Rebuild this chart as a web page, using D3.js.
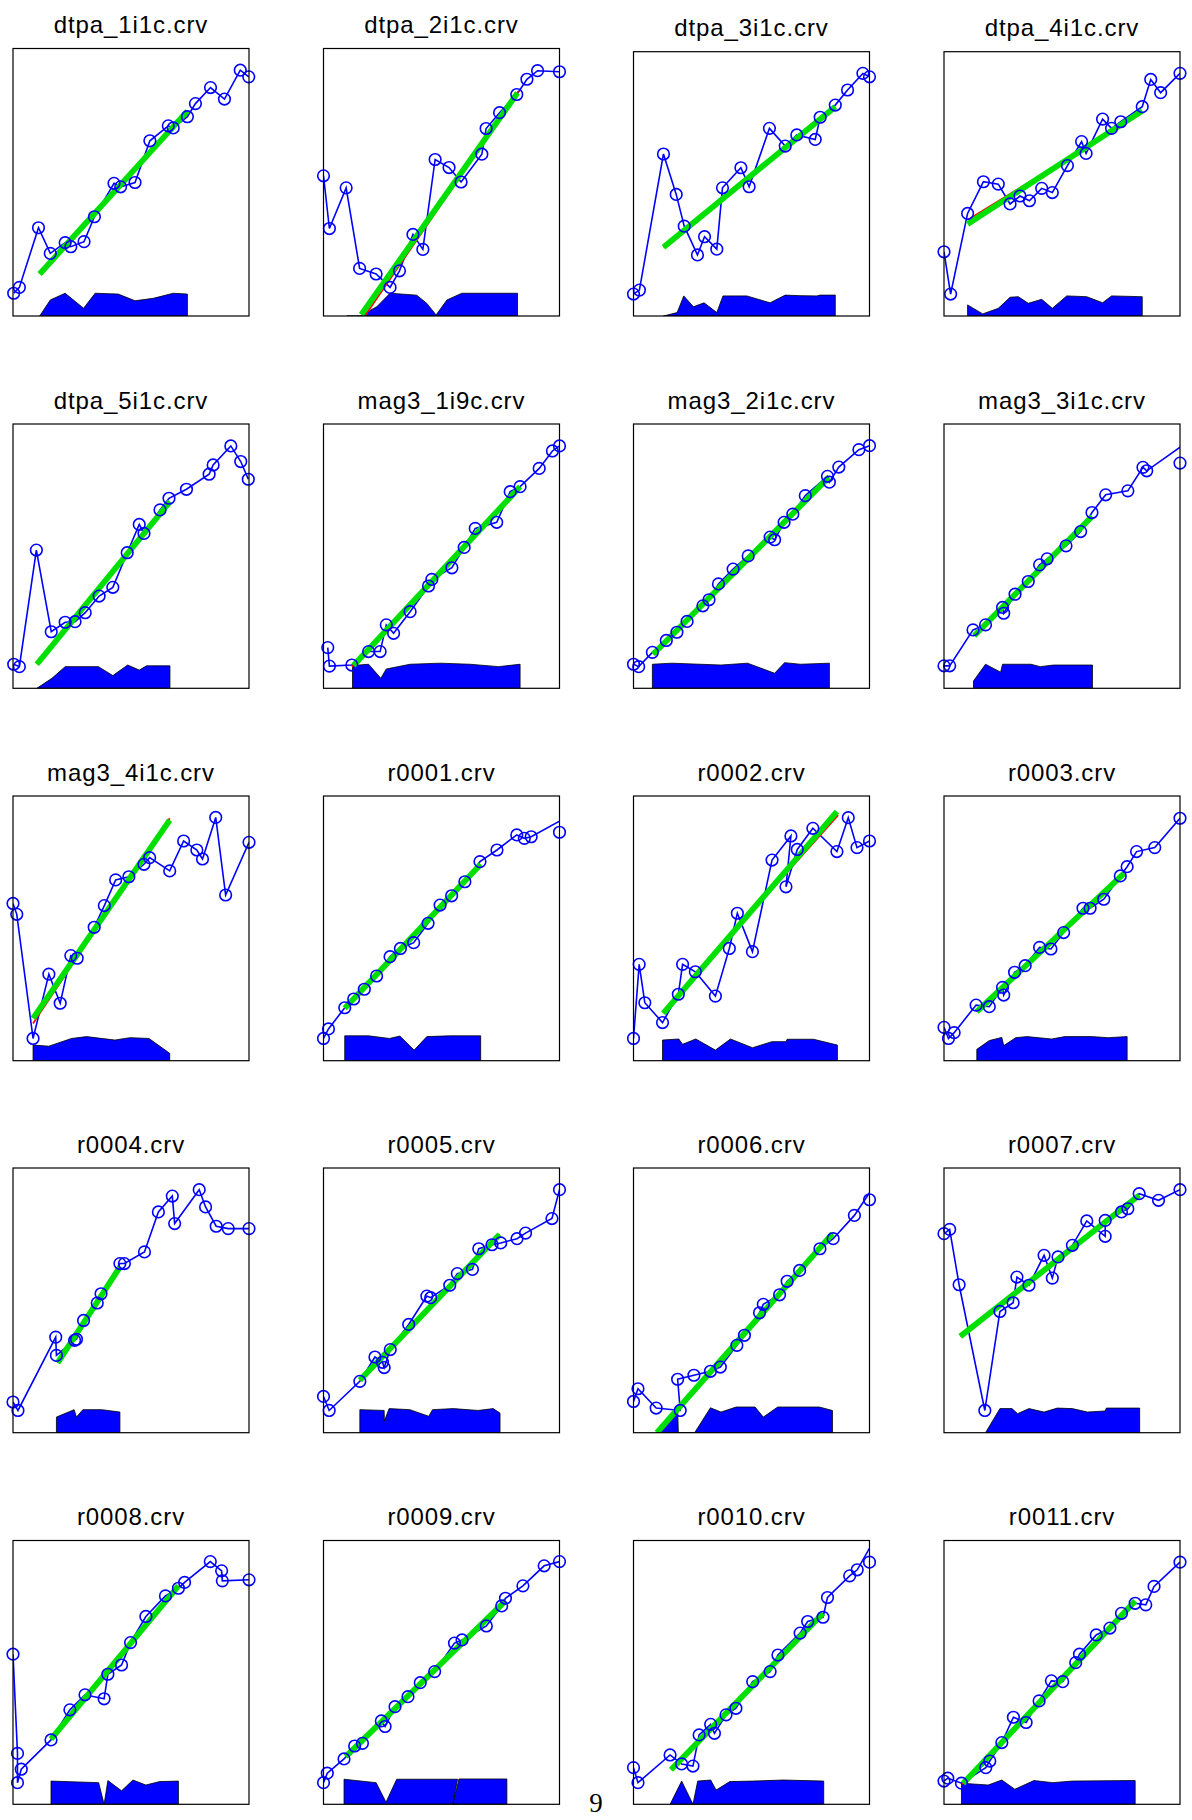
<!DOCTYPE html>
<html>
<head>
<meta charset="utf-8">
<script src="https://cdn.jsdelivr.net/npm/d3@7"></script>
<style>
  body { margin: 0; background: #fff; }
  svg { display: block; }
</style>
</head>
<body>
<div id="chart"></div>
<script>
// panel titles (4 per row)
const titles = ["dtpa_1i1c.crv", "dtpa_2i1c.crv", "dtpa_3i1c.crv", "dtpa_4i1c.crv",
  "dtpa_5i1c.crv", "mag3_1i9c.crv", "mag3_2i1c.crv", "mag3_3i1c.crv",
  "mag3_4i1c.crv", "r0001.crv", "r0002.crv", "r0003.crv",
  "r0004.crv", "r0005.crv", "r0006.crv", "r0007.crv",
  "r0008.crv", "r0009.crv", "r0010.crv", "r0011.crv"];

// measured curve, x in % of the axis range, y in % of the axis range
const curveX = [
  [0.3,2.7,10.8,15.8,22.1,24.5,30.1,34.5,42.8,45.6,51.7,58.0,65.8,67.9,73.9,77.3,83.7,89.6,96.3,99.9],
  [0,2.5,9.6,15.3,22.3,28.2,32.2,37.9,42.1,47.3,53.2,58.3,67.1,68.9,74.6,81.9,86.2,90.7,100],
  [0,2.5,12.7,18.1,21.5,27.1,30.1,35.3,37.7,45.5,49.0,57.6,64.3,69.2,77.0,79.1,85.5,90.7,97.2,100],
  [0,2.8,10.0,16.7,23.0,28.0,32.2,36.2,41.4,45.9,52.3,58.3,60.2,67.2,71.0,74.9,84.0,87.6,91.8,100],
  [0.3,2.7,9.9,16.2,22.1,26.3,30.6,36.5,42.3,48.4,53.5,55.5,62.3,66.1,73.5,83.1,84.8,92.3,96.5,99.7],
  [1.8,2.5,12.0,19.1,24.0,26.6,29.7,36.7,44.5,45.9,54.4,59.6,64.3,73.4,79.1,83.3,91.4,97.0,100],
  [0,2.2,8.0,13.9,18.4,22.7,29.4,32.0,36.0,42.2,48.6,57.9,59.8,63.8,67.5,72.8,82.2,83.0,87.0,95.5,100],
  [0,2.4,12.3,17.6,24.8,25.3,30.1,35.7,40.5,43.7,51.7,57.9,62.7,68.5,77.9,84.3,85.9,104,100],
  [0,1.6,8.5,15.2,20.0,24.5,27.2,34.4,38.7,43.5,49.1,55.5,57.9,66.4,72.3,77.9,80.3,85.9,90.1,100],
  [0,2.1,9.0,12.8,17.3,22.5,28.2,32.6,38.2,44.3,49.4,54.3,59.9,66.3,73.5,81.9,85.1,88.0,104,100],
  [0,2.4,4.8,12.3,19.0,20.8,26.2,34.7,40.6,44.0,50.4,58.7,66.7,64.6,69.4,76.0,86.2,91.0,94.7,100],
  [0,1.9,4.3,13.6,19.2,24.8,25.3,29.9,34.4,40.5,45.3,50.7,58.9,61.9,67.7,74.7,77.6,81.6,89.3,100],
  [0,2.1,18.1,18.4,26.1,26.9,29.9,35.7,37.3,45.3,47.2,55.7,61.6,67.5,68.5,78.9,81.6,86.1,91.2,100],
  [0,2.4,15.4,21.8,25.0,25.7,28.3,36.1,43.8,45.4,53.5,56.7,63.1,65.8,71.4,75.1,82.0,85.6,96.8,100],
  [0,1.9,9.6,19.8,18.7,25.6,32.6,36.8,43.8,47.0,53.4,55.0,61.9,65.1,70.4,79.0,84.6,93.6,104,100],
  [0,2.4,6.4,17.3,23.7,29.3,30.9,36.0,42.4,45.9,48.3,54.4,60.5,68.3,68.3,75.2,77.9,82.7,90.9,100],
  [0,1.9,1.9,3.5,16.1,24.1,30.5,38.6,40.2,46.0,49.8,56.3,64.6,70.1,72.7,83.6,88.4,88.7,100],
  [0,1.6,8.7,13.2,16.5,24.5,26.1,30.3,35.8,41.0,47.1,55.5,58.7,69.0,75.5,77.1,84.5,93.5,100],
  [0,1.9,15.5,20.4,25.2,27.8,32.7,34.3,39.2,43.4,50.5,57.9,61.2,70.6,73.8,80.3,82.2,91.6,94.8,103,100],
  [0,1.6,7.4,17.7,19.4,24.5,29.4,34.8,40.3,45.5,50.3,55.8,57.4,64.5,70.3,75.2,81.0,85.5,89.0,100]
];
const curveY = [
  [8.5,10.7,33.0,23.4,27.4,25.9,27.8,37.1,49.6,48.3,49.9,65.5,71.1,70.3,74.5,79.4,85.4,81.1,91.9,89.4],
  [52.4,32.7,47.9,17.8,15.7,10.7,16.9,30.5,24.9,58.5,55.5,50.1,60.5,70.1,76.0,82.8,88.5,91.7,91.3],
  [8.3,9.8,61.3,46.0,34.0,23.1,30.0,25.3,48.5,56.1,48.9,71.0,64.3,68.5,66.8,75.2,79.8,85.5,91.8,90.5],
  [24.3,8.3,38.8,50.8,49.9,42.4,45.4,43.6,48.3,46.7,56.9,66.0,61.5,74.5,71.0,73.5,79.2,89.5,84.5,91.8],
  [9.1,8.2,52.3,21.4,25.0,25.2,28.6,34.9,38.2,51.3,62.0,58.6,67.5,71.9,75.3,81.0,84.5,91.7,85.8,79.1],
  [15.4,8.4,8.8,13.9,13.9,24.0,20.8,29.0,38.7,41.2,45.6,53.3,60.5,62.8,74.4,76.3,83.2,89.8,91.7],
  [9.1,8.2,13.6,18.1,21.2,25.3,31.2,33.5,39.5,45.1,50.1,57.2,56.2,62.8,65.9,72.9,80.2,78.0,83.7,90.3,91.8],
  [8.5,8.5,22.1,24.0,30.6,28.4,35.6,40.4,46.7,49.0,53.9,59.3,66.5,73.2,74.7,83.6,82.3,93.7,85.2],
  [59.4,55.3,8.4,32.7,21.7,39.7,38.7,50.4,58.6,68.3,69.5,74.2,76.7,71.7,83.0,79.6,76.2,91.9,62.6,82.5],
  [8.4,12.0,20.0,23.3,27.0,32.0,39.3,42.4,44.6,51.9,58.8,62.3,67.6,75.2,79.6,85.3,84.0,84.6,92.5,86.3],
  [8.4,36.4,21.9,14.4,25.1,36.4,33.6,24.4,42.4,55.7,41.2,75.8,84.9,65.7,79.8,87.8,79.0,91.8,80.5,83.0],
  [12.6,8.4,10.6,21.0,20.4,27.7,24.8,33.4,35.9,42.8,42.2,48.4,57.6,57.6,61.0,69.8,73.3,79.0,80.5,91.6],
  [11.6,8.4,36.1,29.2,34.9,35.3,42.4,49.0,52.5,63.9,63.9,68.3,83.4,89.4,79.0,91.8,85.3,78.0,77.1,77.1],
  [13.7,8.4,19.4,28.6,26.6,24.6,31.4,40.9,51.6,51.0,55.7,60.1,61.7,69.5,71.0,71.7,73.3,75.4,80.9,91.8],
  [11.8,16.6,9.3,8.4,20.2,21.7,23.2,24.8,33.0,36.8,45.3,48.5,52.1,57.2,61.3,69.5,73.3,82.1,96,88.0],
  [75.2,76.8,55.9,8.4,45.8,49.1,58.8,55.7,67.0,58.4,66.4,70.8,80.0,74.2,80.2,83.4,84.6,90.3,87.8,91.8],
  [56.9,19.3,8.2,13.3,24.4,35.8,41.5,40.0,49.3,52.8,61.3,71.2,79.0,81.9,84.1,92.0,88.5,84.7,85.1],
  [8.2,11.8,17.2,22.1,23.1,31.6,29.5,37.0,40.8,46.1,50.3,61.1,62.3,67.6,75.2,78.1,82.8,90.4,92.0],
  [13.9,8.2,18.7,15.3,14.5,26.3,30.3,26.9,33.9,36.4,46.5,50.3,56.6,64.9,69.3,70.9,78.4,86.6,88.9,101.8,91.8],
  [8.8,9.9,8.0,13.9,16.4,23.4,33.0,31.0,39.2,46.8,46.5,53.7,56.9,64.2,66.8,72.4,76.2,75.6,82.6,91.8]
];

// linear fits: [x0, y0, x1, y1]
const greenFit = [
  [11.3,15.7,73.9,76.6], [16.0,0.5,82.2,83.4], [12.7,26.0,85.5,79.2], [10.0,34.8,84.0,77.6],
  [10.1,9.1,66.5,70.6], [12.7,8.6,83.3,76.3], [8.3,12.9,82.7,79.8], [12.8,19.9,62.7,65.0],
  [8.5,16.0,66.4,90.9], [9.0,19.8,66.6,74.2], [12.6,17.9,86.2,94.1], [13.9,18.5,76.3,70.8],
  [18.9,26.4,45.3,62.6], [15.4,19.8,74.6,74.9], [9.9,0,84.3,75.2], [6.9,36.4,82.7,89.7],
  [16.1,24.7,70.1,82.8], [9.4,18.1,77.1,77.1], [15.9,13.1,80.3,72.4], [8.1,7.9,81.0,77.1]
];
const redFit = [
  [11.3,15.7,73.9,76.6], [17.5,0,82.6,84.0], [12.7,26.0,85.5,79.2], [10.0,36.3,84.0,76.9],
  [10.1,9.1,66.5,70.6], [12.0,8.2,83.6,75.9], [8.3,12.9,82.7,79.8], [12.8,19.9,62.7,65.0],
  [8.5,14.1,66.4,91.6], [9.0,19.8,66.6,74.2], [12.3,18.5,86.7,92.8], [13.9,18.5,76.3,70.8],
  [18.9,26.4,45.3,62.6], [15.4,19.8,74.6,74.9], [9.9,0,84.3,75.2], [6.9,36.4,82.7,89.7],
  [16.1,24.7,70.1,82.8], [9.4,18.1,77.1,77.1], [15.9,13.1,80.3,72.4], [7.6,7.6,80.6,76.9]
];

// filled band along the bottom of each panel
const areaX = [
  [11.3,15.8,22.1,29.9,34.8,44.6,51.7,59.4,67.9,73.9,73.9],
  [9.9,15.5,22.6,28.2,39.5,43.8,47.7,52.3,58.6,82.2,82.2],
  [12.7,18.5,21.3,25.4,29.9,35.3,37.9,48.0,57.9,64.3,70.6,77.7,79.1,85.5,85.5],
  [10.0,10.0,16.4,23.0,28.0,31.5,35.7,41.4,45.9,52.0,60.5,67.2,71.0,84.0,84.0],
  [10.1,16.5,22.1,36.2,42.3,48.6,53.5,56.6,66.5,66.5],
  [12.3,12.3,19.1,24.3,26.6,36.7,49.4,62.1,74.2,83.3,83.3],
  [8.0,8.0,16.3,37.1,48.3,59.8,64.0,70.7,83.0,83.0],
  [12.5,12.5,17.6,24.0,24.8,36.8,40.8,46.4,62.9,62.9],
  [8.5,8.5,15.2,24.8,31.2,43.2,49.6,57.6,66.4,66.4],
  [9.0,9.0,19.1,27.9,32.4,38.4,43.8,53.5,66.6,66.6],
  [12.3,12.3,19.2,20.8,26.4,34.7,41.1,50.4,58.7,64.6,65.1,76.3,86.4,86.4],
  [13.9,13.9,19.2,24.5,25.3,30.4,35.2,45.6,51.2,62.4,69.6,77.6,77.6],
  [18.4,18.4,25.9,26.9,29.6,37.6,45.3,45.3],
  [15.4,15.4,25.7,25.8,27.8,36.6,44.6,46.2,55.0,65.5,71.9,74.8,74.8],
  [9.6,18.7,19.0,25.9,32.6,37.1,43.5,51.5,55.0,61.1,78.7,84.3,84.3],
  [17.6,23.7,28.8,31.2,36.0,42.4,48.0,54.4,60.8,68.3,68.8,82.9,82.9],
  [16.1,16.1,36.3,38.6,40.2,46.0,50.8,56.3,62.1,70.1,70.1],
  [8.7,8.7,22.3,26.5,31.0,56.8,54.8,57.4,77.7,77.7],
  [15.5,20.4,25.2,27.2,32.7,35.0,40.8,50.5,63.4,80.6,80.6],
  [7.4,7.4,18.7,24.5,30.0,38.1,46.1,54.2,81.0,81.0]
];
const areaY = [
  [0,6.0,8.5,2.9,8.5,8.2,5.7,6.6,8.5,8.2,0],
  [0,0,3.5,8.5,7.8,4.7,0.4,6.0,8.5,8.5,0],
  [0,1.3,7.6,3.5,5.0,1.3,7.6,7.6,5.0,7.9,7.7,7.6,7.9,7.9,0],
  [0,4.2,0.8,2.9,7.1,7.3,4.8,6.3,2.9,7.6,7.3,5.0,7.6,7.3,0],
  [0,3.8,8.2,8.2,4.8,8.8,6.9,8.5,8.5,0],
  [0,8.6,9.1,3.8,7.3,9.1,9.5,9.1,8.2,9.1,0],
  [0,9.1,9.5,8.8,9.5,5.7,9.7,9.1,9.5,0],
  [0,2.8,9.1,6.1,9.1,9.1,8.2,8.8,8.8,0],
  [0,5.9,5.5,8.4,9.1,7.8,8.7,8.4,2.8,0],
  [0,9.4,9.4,8.4,9.3,4.0,9.1,9.4,9.4,0],
  [0,7.8,8.2,6.2,8.2,4.0,8.2,4.9,7.2,7.2,8.1,8.1,5.9,0],
  [0,4.3,7.6,8.8,5.7,8.7,9.1,8.2,9.1,9.1,8.7,9.1,0],
  [0,5.9,8.7,5.9,8.7,8.7,7.8,0],
  [0,8.7,8.4,4.4,9.1,8.7,6.2,8.7,9.1,8.4,9.1,7.4,0],
  [0,9.2,0,0,9.4,7.8,9.7,9.7,5.9,9.7,9.7,8.4,0],
  [0,9.1,9.1,7.2,9.1,7.8,9.3,9.1,7.8,8.2,9.3,9.3,0],
  [0,8.8,8.2,0,9.0,5.1,9.2,7.3,8.6,8.8,0],
  [0,9.5,8.2,0.8,9.5,9.5,0,9.6,9.6,0],
  [0,8.8,0,8.8,9.2,5.4,8.6,8.8,9.2,8.8,0],
  [0,8.0,7.3,9.2,5.7,9.0,8.2,8.8,9.0,0]
];

const pageNumber = "9";

// page layout (subplot boxes)
const width = 1192, height = 1820;
const colLeft = [13, 323.5, 633.5, 944];
const boxW = 236;
const rowTop = [48.5, 424, 796, 1168, 1540.5];
const rowBottom = [316, 688.3, 1060.7, 1432.7, 1804.3];

const svg = d3.select("#chart")
  .append("svg")
    .attr("width", width)
    .attr("height", height);

titles.forEach((title, i) => {
  const r = Math.floor(i / 4), c = i % 4;
  const top = (r === 0 && c >= 2) ? 51.7 : rowTop[r];
  const bottom = rowBottom[r];
  const left = colLeft[c];

  const x = d3.scaleLinear().domain([0, 100]).range([left, left + boxW]);
  const y = d3.scaleLinear().domain([0, 100]).range([bottom, top]);

  const g = svg.append("g");

  g.append("clipPath")
      .attr("id", "clip" + i)
    .append("rect")
      .attr("x", left).attr("y", top)
      .attr("width", boxW).attr("height", bottom - top);

  const plot = g.append("g").attr("clip-path", `url(#clip${i})`);

  // bottom band
  const band = areaX[i].map((v, k) => [v, areaY[i][k]]);
  plot.append("path")
    .datum(band)
    .attr("d", d3.area().x(d => x(d[0])).y0(y(0)).y1(d => y(d[1])))
    .attr("fill", "#0000ff")
    .attr("stroke", "#000")
    .attr("stroke-width", 0.8);

  // curve
  const pts = curveX[i].map((v, k) => [v, curveY[i][k]]);
  plot.append("path")
    .datum(pts)
    .attr("d", d3.line().x(d => x(d[0])).y(d => y(d[1])))
    .attr("fill", "none")
    .attr("stroke", "#0000ff")
    .attr("stroke-width", 1.6);

  g.selectAll("circle")
    .data(pts.filter(d => d[0] >= 0 && d[0] <= 100 && d[1] >= 0 && d[1] <= 100))
    .join("circle")
      .attr("cx", d => x(d[0]))
      .attr("cy", d => y(d[1]))
      .attr("r", 5.8)
      .attr("fill", "none")
      .attr("stroke", "#0000ff")
      .attr("stroke-width", 1.6);

  // fits: red underneath, thick green on top
  const rf = redFit[i], gf = greenFit[i];
  plot.append("line")
    .attr("x1", x(rf[0])).attr("y1", y(rf[1]))
    .attr("x2", x(rf[2])).attr("y2", y(rf[3]))
    .attr("stroke", "#ff0000")
    .attr("stroke-width", 1.8);
  plot.append("line")
    .attr("x1", x(gf[0])).attr("y1", y(gf[1]))
    .attr("x2", x(gf[2])).attr("y2", y(gf[3]))
    .attr("stroke", "#00e000")
    .attr("stroke-width", 5.8);

  // axes box
  g.append("rect")
    .attr("x", left).attr("y", top)
    .attr("width", boxW).attr("height", bottom - top)
    .attr("fill", "none")
    .attr("stroke", "#000")
    .attr("stroke-width", 1.2);

  g.append("text")
    .attr("x", left + boxW / 2)
    .attr("y", top - 15.5)
    .attr("text-anchor", "middle")
    .style("font-family", "'Liberation Sans', Arial, sans-serif")
    .style("font-size", "24px")
    .style("letter-spacing", "0.9px")
    .style("fill", "#000")
    .text(title);
});

svg.append("text")
  .attr("x", 596)
  .attr("y", 1812)
  .attr("text-anchor", "middle")
  .style("font-family", "'Liberation Serif', 'DejaVu Serif', serif")
  .style("font-size", "27px")
  .style("fill", "#000")
  .text(pageNumber);
</script>
</body>
</html>
